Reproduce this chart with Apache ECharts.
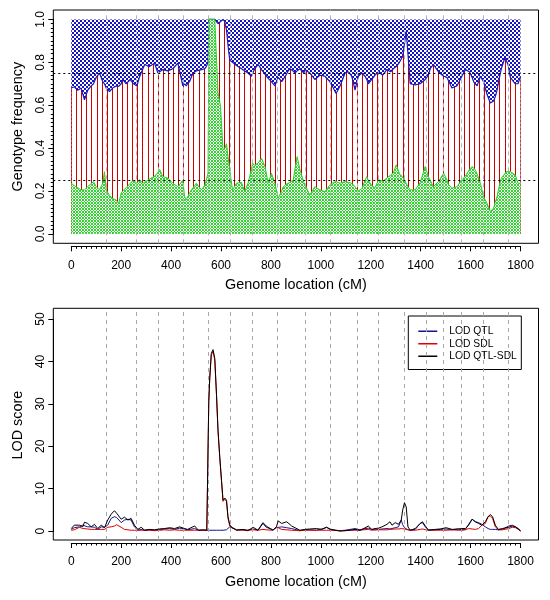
<!DOCTYPE html>
<html><head><meta charset="utf-8">
<script src="https://cdn.jsdelivr.net/npm/echarts@6/dist/echarts.min.js"></script>
<style>html,body{margin:0;padding:0;background:#fff}#c{width:550px;height:600px}</style>
</head><body><div id="c"></div>
<script>
// ---------- DATA ----------
// Top panel: genotype frequencies along genome (cM)
const pos = [
  0,12,26,39,53,66,80,89,100,113,
  126,133,140,153,166,180,190,200,206,220,
  236,249,263,273,287,294,313,334,347,354,
  367,387,407,427,447,454,461,466,474,481,
  488,501,508,521,528,535,541,548,552,575,
  579,588,598,608,615,622,628,635,646,662,
  668,682,688,695,708,722,726,735,742,749,
  762,776,789,796,802,816,829,833,843,849,
  860,869,876,889,896,905,916,932,936,956,
  976,996,1016,1036,1050,1061,1077,1097,1110,1124,
  1137,1150,1164,1177,1184,1190,1204,1217,1231,1248,
  1264,1280,1290,1302,1315,1328,1342,1349,1358,1378,
  1398,1418,1431,1438,1451,1471,1492,1505,1512,1525,
  1545,1565,1579,1586,1595,1606,1612,1619,1626,1639,
  1652,1666,1679,1692,1699,1706,1712,1723,1737,1742,
  1750,1759,1779,1790,1800];
// frequency of genotype A (green, bottom)
const freqA = [
  .236,.225,.215,.205,.205,.22,.235,.244,.22,.205,
  .236,.29,.205,.18,.165,.158,.142,.19,.20,.215,
  .236,.25,.236,.252,.236,.24,.255,.27,.285,.30,
  .267,.26,.236,.22,.25,.173,.16,.158,.19,.205,
  .215,.236,.228,.205,.215,.228,.25,.283,1,1,
  .89,.66,.594,.39,.40,.42,.36,.298,.205,.236,
  .24,.24,.22,.197,.236,.30,.33,.32,.314,.33,
  .353,.314,.236,.26,.283,.236,.165,.158,.20,.22,
  .23,.236,.24,.25,.30,.36,.30,.24,.236,.181,
  .22,.205,.197,.228,.24,.244,.236,.244,.24,.236,
  .22,.20,.21,.25,.267,.25,.225,.215,.252,.245,
  .26,.275,.283,.322,.28,.265,.236,.22,.205,.205,
  .24,.314,.267,.25,.22,.244,.283,.252,.23,.213,
  .22,.252,.27,.283,.30,.314,.31,.298,.28,.236,
  .173,.142,.103,.12,.15,.173,.21,.26,.28,.29,
  .29,.29,.275,.236,.236];
// cumulative frequency of genotypes A + H (top of red band)
const cumAH = [
  .68,.686,.67,.68,.625,.67,.69,.70,.73,.75,
  .71,.70,.68,.664,.68,.69,.688,.70,.72,.70,
  .72,.70,.69,.73,.77,.79,.78,.796,.75,.755,
  .766,.76,.77,.796,.69,.70,.69,.70,.71,.73,
  .75,.76,.766,.766,.766,.77,.78,.80,1,1,
  1,.98,.99,1,.99,.95,.88,.81,.80,.785,
  .78,.77,.766,.76,.75,.735,.74,.77,.78,.79,
  .766,.745,.725,.72,.71,.69,.73,.725,.71,.72,
  .74,.76,.77,.76,.75,.76,.77,.75,.766,.75,
  .72,.74,.735,.71,.68,.655,.69,.75,.756,.735,
  .67,.735,.75,.735,.72,.70,.72,.74,.756,.74,
  .766,.756,.77,.78,.80,.828,.944,.84,.70,.695,
  .70,.72,.74,.77,.79,.756,.735,.73,.727,.68,
  .69,.735,.766,.76,.756,.73,.71,.70,.69,.735,
  .71,.65,.61,.62,.64,.67,.71,.77,.82,.81,
  .79,.73,.70,.70,.735];
// chromosome boundaries (cM)
const chromBreaks = [139,261,348,449,549,636,726,826,938,1038,1147,1231,1335,1423,1491,1563,1652,1752];
const refLines = [0.25, 0.75];

// Bottom panel: LOD scores
const lodPos = [
  0,12,33,46,53,66,80,93,106,120,
  133,146,160,173,182,190,200,213,227,240,
  253,267,280,294,314,333,354,374,394,414,
  434,454,466,494,510,527,543,548,551,555,
  561,568,575,582,588,595,602,608,615,622,
  628,635,642,662,688,707,729,748,768,781,
  808,822,829,843,863,883,916,936,956,983,
  1004,1023,1037,1057,1077,1097,1117,1137,1157,1169,
  1190,1204,1217,1231,1245,1265,1277,1285,1298,1311,
  1322,1328,1335,1342,1349,1358,1378,1398,1407,1421,
  1431,1458,1478,1502,1526,1550,1565,1579,1592,1606,
  1619,1632,1645,1659,1670,1679,1688,1699,1711,1727,
  1753,1767,1780,1792,1800];
const lodQTL = [
  .4,.8,1.0,1.4,1.2,1.0,1.0,.9,.4,1.0,
  .9,1.4,3.0,3.4,3.2,3.0,2.0,2.6,2.8,2.6,
  1.0,.2,.4,.2,.3,.2,.4,.5,.6,.4,
  .7,.5,.3,.6,.2,.2,.2,.2,.2,.2,
  .2,.2,.2,.2,.2,.2,.2,.2,.3,.3,
  .5,1.0,.8,.3,.3,.2,.5,.2,1.8,.9,
  .3,.8,1.0,1.0,.8,.6,.1,.3,.3,.2,
  .5,.9,.5,.2,.1,.2,.4,.6,.3,.5,
  .7,.4,.3,.4,.5,.6,.5,.5,.8,1.0,
  2.6,1.5,.8,.4,.3,.2,.4,1.8,2.0,.8,
  .3,.3,.4,.5,.3,.5,.3,.4,1.6,2.8,
  2.2,2.0,1.6,1.0,.6,.4,.4,.4,.3,.4,
  1.2,1.4,1.0,.6,.1];
const lodSDL = [
  .2,.3,.9,.6,.5,.5,.4,.4,.4,.4,
  .4,.9,1.0,1.2,1.5,1.8,.9,.4,.3,.2,
  .2,.2,.2,.2,.2,.1,.2,.3,.2,.3,
  .2,.2,.2,.2,.2,.2,.2,.2,30.5,36,
  41.5,42.4,40.3,31.8,23.5,17.2,11.7,7.0,7.5,7.0,
  3.0,1.2,1.0,.3,.2,.2,.3,.2,.4,.3,
  .2,1.0,.6,.4,.3,.2,.1,.2,.2,.2,
  .2,.2,.2,.2,.1,.1,.2,.2,.2,.3,
  .4,.2,.3,.3,.3,.3,.4,.4,.5,.5,
  .6,.8,.5,.3,.3,.2,.2,.4,.5,.3,
  .2,.2,.2,.2,.3,.2,.2,.3,.6,.5,
  .4,.6,1.4,1.8,3.4,3.6,3.0,1.0,.3,.3,
  .6,.9,.8,.4,.1];
const lodQTLSDL = [
  .6,1.4,1.4,1.0,2.1,1.8,1.0,1.6,.6,1.4,
  .8,2.6,4.0,4.8,4.2,4.6,2.8,3.3,2.6,3.0,
  1.4,.4,.9,.2,.4,.3,.5,.6,.8,.6,
  1.0,.6,.4,1.2,.2,.3,.2,.3,30.9,36.4,
  41.9,42.8,40.7,32.2,23.8,17.5,12.0,7.3,7.8,7.3,
  3.4,1.5,.9,.2,.4,.1,.9,.2,2.0,1.2,
  .2,1.0,2.4,1.8,2.2,1.2,.2,.4,.5,.6,
  .4,.9,.4,.2,0,.1,.2,.4,.2,.5,
  1.2,.4,.6,.7,1.0,1.6,2.2,1.4,2.0,1.6,
  2.6,5.0,6.7,5.7,1.0,.2,.6,1.8,2.2,1.0,
  .2,.4,.5,.8,.4,.5,.6,.6,1.4,2.8,
  2.2,1.8,1.4,2.2,3.4,3.9,3.4,1.4,.4,.6,
  .9,1.2,1.0,.4,0];

const xTicks = [0,200,400,600,800,1000,1200,1400,1600,1800];
const freqTicks = [0,0.2,0.4,0.6,0.8,1.0];
const lodTicks = [0,10,20,30,40,50];
const seriesNames = ['LOD QTL','LOD SDL','LOD QTL-SDL'];

// ---------- LAYOUT ----------
const FONT = '"Liberation Sans", Arial, sans-serif';
const P1 = {left:53.3, right:538.5, top:10, bottom:243.3, xmin:-72, xmax:1872, ymin:-0.044, ymax:1.044};
const P2 = {left:53.3, right:538.5, top:308.3, bottom:540, xmin:-72, xmax:1872, ymin:-2.1, ymax:52.55};
function px(P,v){return P.left+(v-P.xmin)/(P.xmax-P.xmin)*(P.right-P.left);}
function py(P,v){return P.bottom-(v-P.ymin)/(P.ymax-P.ymin)*(P.bottom-P.top);}
const X0 = xTicks[0], X1 = xTicks[xTicks.length-1];

function boxGrid(P){return {left:P.left, top:P.top, width:P.right-P.left, height:P.bottom-P.top, show:true, borderColor:'#000', borderWidth:1, backgroundColor:'transparent'};}
function axGrid(P,y0,y1){return {left:px(P,X0), width:px(P,X1)-px(P,X0), top:py(P,y1), height:py(P,y0)-py(P,y1)};}

function makePattern(w,h,bg,fg,test){
  const c=document.createElement('canvas'); c.width=w; c.height=h;
  const ctx=c.getContext('2d'); ctx.fillStyle=bg; ctx.fillRect(0,0,w,h); ctx.fillStyle=fg;
  for(let y=0;y<h;y++)for(let x=0;x<w;x++) if(test(x,y)) ctx.fillRect(x,y,1,1);
  return c;
}
const greenPat = makePattern(3,3,'#ffffff','#2ed62e',(x,y)=>(x+y)%3===0||(x-y+3)%3===0);
const bluePat = makePattern(4,4,'#ffffff','#1414c4',(x,y)=>(Math.floor(x/2)+Math.floor(y/2))%2===0 || (x+y)%4===1);
const redCols = new Set(); for(let i=0;i<10;i++) redCols.add((20+Math.round(i*5.1))%51);
const redPat = makePattern(51,1,'#ffffff','#d00000',(x,y)=>redCols.has(x));

function xAxisVisible(gi,P,y0){
  return {gridIndex:gi, type:'value', min:X0, max:X1, interval:xTicks[1]-xTicks[0], position:'bottom',
    offset: P.bottom+3-py(P,y0),
    axisLine:{show:true, onZero:false, lineStyle:{color:'#000', width:1}},
    axisTick:{show:true, length:5, lineStyle:{color:'#000'}},
    minorTick:{show:true, splitNumber:10, length:2.5, lineStyle:{color:'#000'}},
    splitLine:{show:false}, minorSplitLine:{show:false},
    axisLabel:{color:'#000', fontFamily:FONT, fontSize:12, margin:13, formatter:v=>String(v)},
    name:'Genome location (cM)', nameLocation:'middle', nameGap:32,
    nameTextStyle:{color:'#000', fontFamily:FONT, fontSize:14.4}};
}
function yAxisVisible(gi,P,ticks,name,minor,fmt){
  return {gridIndex:gi, type:'value', min:ticks[0], max:ticks[ticks.length-1], interval:ticks[1]-ticks[0], position:'left',
    offset: px(P,X0)-P.left,
    axisLine:{show:true, onZero:false, lineStyle:{color:'#000', width:1}},
    axisTick:{show:true, length:5, lineStyle:{color:'#000'}},
    minorTick:{show:minor, splitNumber:10, length:2.5, lineStyle:{color:'#000'}},
    splitLine:{show:false}, minorSplitLine:{show:false},
    axisLabel:{color:'#000', fontFamily:FONT, fontSize:12, margin:7, rotate:90, formatter:fmt},
    name:name, nameLocation:'middle', nameGap:28, nameRotate:90,
    nameTextStyle:{color:'#000', fontFamily:FONT, fontSize:14.4}};
}
function hiddenAxis(gi,min,max){return {gridIndex:gi, type:'value', min:min, max:max, show:false, splitLine:{show:false}};}

const breakLines = chromBreaks.map(v=>({xAxis:v}));

const option = {
  animation:false,
  backgroundColor:'#fff',
  grid:[boxGrid(P1), axGrid(P1,0,1), boxGrid(P2), axGrid(P2,lodTicks[0],lodTicks[lodTicks.length-1])],
  xAxis:[hiddenAxis(0,P1.xmin,P1.xmax), xAxisVisible(1,P1,0), hiddenAxis(2,P2.xmin,P2.xmax), xAxisVisible(3,P2,0)],
  yAxis:[hiddenAxis(0,P1.ymin,P1.ymax), yAxisVisible(1,P1,freqTicks,'Genotype frequency',true,v=>v.toFixed(1)),
         hiddenAxis(2,P2.ymin,P2.ymax), yAxisVisible(3,P2,lodTicks,'LOD score',false,v=>String(v))],
  legend:{
    data:seriesNames, orient:'vertical', left:408.3, top:316,
    borderColor:'#000', borderWidth:1, borderRadius:0, padding:[9,4.5,7,10],
    itemGap:0, itemWidth:26, itemHeight:12.5,
    icon:'path://M0,0h19v1.3h-19zM26,0h0.01v1.3h-0.01z',
    textStyle:{color:'#000', fontFamily:FONT, fontSize:10.3, lineHeight:12.5},
    selectedMode:false, backgroundColor:'#fff'
  },
  series:[
    {name:'BB', type:'line', xAxisIndex:0, yAxisIndex:0, symbol:'none', silent:true, z:1,
     data:pos.map(p=>[p,1]), lineStyle:{width:0}, areaStyle:{color:{image:bluePat, repeat:'repeat'}, opacity:1}},
    {name:'AB', type:'line', xAxisIndex:0, yAxisIndex:0, symbol:'none', silent:true, z:2,
     data:pos.map((p,i)=>[p,cumAH[i]]), lineStyle:{color:'#1a1ab4', width:1.2}, areaStyle:{color:{image:redPat, repeat:'repeat'}, opacity:1}},
    {name:'AA', type:'line', xAxisIndex:0, yAxisIndex:0, symbol:'none', silent:true, z:3,
     data:pos.map((p,i)=>[p,freqA[i]]), lineStyle:{color:'#2ccc2c', width:1}, areaStyle:{color:{image:greenPat, repeat:'repeat'}, opacity:1}},
    {name:'marks1', type:'line', xAxisIndex:0, yAxisIndex:0, data:[], z:5, silent:true,
     markLine:{silent:true, symbol:['none','none'], label:{show:false}, animation:false,
       data: breakLines.map(d=>Object.assign({lineStyle:{color:'#b4b4b4', width:1, type:[4,4]}},d))
         .concat(refLines.map(v=>({yAxis:v, lineStyle:{color:'#000', width:1, type:[2,3]}})))}},
    {name:'marks2', type:'line', xAxisIndex:2, yAxisIndex:2, data:[], z:1, silent:true,
     markLine:{silent:true, symbol:['none','none'], label:{show:false}, animation:false,
       data: breakLines.map(d=>Object.assign({lineStyle:{color:'#a8a8a8', width:1, type:[4,4]}},d))}},
    {name:seriesNames[0], type:'line', xAxisIndex:2, yAxisIndex:2, symbol:'none', z:3, color:'#15158f',
     data:lodPos.map((p,i)=>[p,lodQTL[i]]), lineStyle:{color:'#15158f', width:1}},
    {name:seriesNames[1], type:'line', xAxisIndex:2, yAxisIndex:2, symbol:'none', z:4, color:'#e00000',
     data:lodPos.map((p,i)=>[p,lodSDL[i]]), lineStyle:{color:'#e00000', width:1}},
    {name:seriesNames[2], type:'line', xAxisIndex:2, yAxisIndex:2, symbol:'none', z:5, color:'#000000',
     data:lodPos.map((p,i)=>[p,lodQTLSDL[i]]), lineStyle:{color:'#000000', width:1}}
  ]
};
const chart = echarts.init(document.getElementById('c'), null, {renderer:'canvas'});
chart.setOption(option);
</script>
</body></html>
